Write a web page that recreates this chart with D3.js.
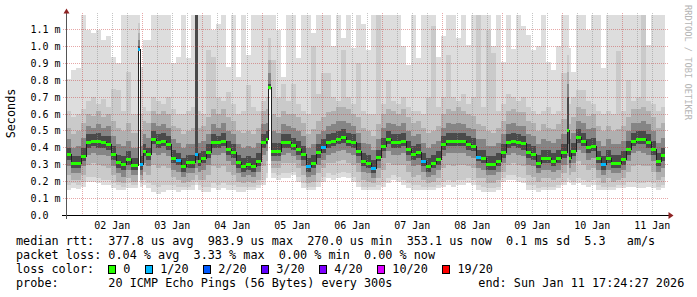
<!DOCTYPE html>
<html>
<head>
<meta charset="utf-8">
<script src="https://cdn.jsdelivr.net/npm/d3@7"></script>
<style>
  body { margin: 0; background: #ffffff; }
  svg { display: block; }
  text { font-family: "DejaVu Sans Mono", monospace; fill: #000000; }
</style>
</head>
<body>
<div id="vis"></div>
<script>
// start of each sample, in hours after Jan 01 17:24:27 (last sample ends at END_HOUR)
const HOURS = [0,2,4,6,8,10,12,14,16,18,
  20,22,24,26,28.7,29.6,30.9,32,34,36,
  38,40,42,44,46,48,50,51.7,52.9,54,
  56,58,60,62,64,66,68,70,72,74,
  76,78,80,80.9,81.9,84,86,88,90,92,
  94,96,98,100,102,104,106,108,110,112,
  114,116,118,120,122,124,126,128,130,132,
  134,136,138,140,142,144,146,148,150,152,
  154,156,158,160,162,164,166,168,170,172,
  174,176,178,180,182,184,186,188,190,192,
  194,196,198,200.5,201.4,202,204,206,208,210,
  212,214,216,218,220,222,224,226,228,230,
  232,234,236,238];
const END_HOUR = 239.6;

// median rtt in ms
const MEDIAN = [.36,.31,.31,.35,.43,.437,.435,.43,.42,.36,
  .313,.30,.33,.293,.98,.30,.378,.358,.45,.43,
  .44,.42,.34,.327,.29,.313,.313,.36,.32,.335,
  .37,.43,.43,.44,.39,.37,.313,.29,.30,.29,
  .32,.43,.45,.757,.38,.38,.43,.43,.415,.39,
  .36,.29,.31,.37,.40,.43,.44,.45,.46,.44,
  .43,.38,.32,.31,.28,.345,.41,.45,.43,.43,
  .44,.39,.36,.37,.32,.29,.31,.33,.42,.44,
  .44,.44,.44,.42,.41,.345,.34,.30,.30,.32,
  .37,.43,.44,.43,.425,.37,.36,.31,.34,.34,
  .32,.34,.37,.50,.34,.38,.46,.44,.40,.41,
  .335,.30,.34,.31,.31,.33,.39,.44,.45,.45,
  .43,.39,.32,.353];

// lost pings out of 20
const LOSS = [0,0,0,0,0,0,0,0,0,0,
  0,0,0,0,1,1,0,0,0,0,
  0,0,0,1,0,0,0,1,0,0,
  0,0,0,0,0,0,0,0,0,0,
  0,0,0,0,0,0,0,0,0,0,
  0,1,0,0,1,0,0,0,0,0,
  0,0,0,0,1,0,0,0,0,0,
  0,0,0,0,1,0,0,0,0,0,
  0,0,0,0,0,1,0,0,0,0,
  0,0,0,0,0,0,0,0,0,0,
  0,0,0,0,0,0,0,0,0,0,
  0,1,0,0,0,0,0,0,0,0,
  0,0,0,0];

// sorted ping values (ms): ping 1, 2, 4, 6, 8 below the median, 13, 15, 17, 19, 20 above
const P1 = [.15,.16,.155,.17,.20,.20,.19,.18,.18,.16,
  .15,.15,.16,.16,.97,.17,.18,.16,.14,.13,
  .14,.15,.15,.14,.15,.15,.15,.18,.15,.14,
  .14,.16,.15,.16,.15,.15,.14,.14,.15,.15,
  .16,.18,.22,.74,.22,.21,.22,.22,.24,.20,
  .16,.15,.15,.17,.20,.22,.21,.22,.23,.22,
  .20,.17,.15,.15,.15,.15,.17,.19,.21,.20,
  .18,.16,.15,.15,.15,.15,.15,.16,.17,.18,
  .17,.18,.18,.19,.18,.15,.14,.14,.14,.15,
  .20,.21,.21,.20,.19,.15,.15,.14,.15,.15,
  .15,.16,.18,.20,.19,.18,.19,.18,.17,.18,
  .15,.15,.15,.15,.16,.16,.17,.17,.16,.16,
  .17,.16,.15,.16];
const P2 = [.18,.19,.18,.20,.23,.23,.22,.21,.21,.19,
  .18,.17,.19,.18,.972,.19,.21,.19,.18,.17,
  .18,.18,.18,.17,.17,.17,.18,.20,.18,.17,
  .17,.19,.18,.19,.18,.18,.17,.17,.17,.17,
  .18,.21,.25,.743,.25,.24,.25,.25,.26,.23,
  .19,.17,.17,.20,.23,.25,.24,.25,.26,.25,
  .23,.20,.17,.17,.17,.18,.20,.22,.24,.23,
  .21,.19,.18,.18,.17,.17,.17,.18,.20,.21,
  .20,.21,.21,.22,.21,.18,.17,.16,.16,.17,
  .22,.24,.24,.23,.22,.18,.18,.16,.17,.17,
  .17,.18,.20,.22,.21,.20,.22,.21,.20,.21,
  .18,.17,.17,.17,.18,.18,.20,.20,.19,.19,
  .20,.19,.17,.18];
const P4 = [.24,.21,.21,.24,.30,.31,.30,.29,.28,.24,
  .20,.19,.22,.20,.975,.21,.26,.24,.30,.28,
  .29,.28,.23,.21,.19,.20,.21,.24,.21,.21,
  .24,.29,.28,.29,.26,.24,.20,.19,.20,.19,
  .21,.29,.32,.747,.28,.28,.31,.31,.31,.28,
  .24,.19,.20,.25,.28,.31,.31,.32,.33,.31,
  .30,.26,.21,.20,.19,.22,.27,.31,.30,.30,
  .30,.26,.23,.24,.21,.19,.20,.22,.28,.30,
  .29,.30,.30,.29,.28,.22,.22,.19,.19,.21,
  .26,.30,.31,.30,.29,.24,.23,.20,.22,.22,
  .21,.22,.25,.30,.24,.26,.32,.30,.27,.28,
  .22,.19,.22,.20,.21,.22,.26,.29,.30,.29,
  .29,.26,.21,.23];
const P6 = [.29,.25,.25,.29,.36,.37,.36,.36,.35,.29,
  .25,.23,.27,.24,.977,.24,.31,.29,.37,.36,
  .37,.35,.27,.26,.23,.25,.25,.28,.26,.27,
  .30,.36,.36,.37,.32,.30,.25,.23,.24,.23,
  .26,.36,.38,.75,.32,.32,.36,.37,.35,.33,
  .29,.23,.24,.30,.33,.36,.37,.38,.39,.37,
  .36,.31,.26,.25,.22,.28,.34,.38,.36,.36,
  .37,.32,.29,.30,.26,.23,.24,.27,.35,.37,
  .37,.37,.37,.35,.34,.28,.27,.24,.24,.26,
  .31,.36,.37,.36,.35,.30,.29,.25,.27,.27,
  .26,.27,.30,.35,.28,.31,.39,.37,.33,.34,
  .27,.24,.27,.25,.25,.27,.32,.37,.38,.37,
  .36,.32,.26,.28];
const P8 = [.33,.28,.28,.32,.40,.41,.40,.40,.39,.33,
  .28,.27,.30,.27,.979,.27,.35,.33,.42,.40,
  .41,.39,.31,.30,.26,.28,.28,.33,.29,.31,
  .34,.40,.40,.41,.36,.34,.28,.26,.27,.26,
  .29,.40,.42,.753,.35,.35,.40,.40,.39,.36,
  .33,.26,.28,.34,.37,.40,.41,.42,.43,.41,
  .40,.35,.29,.28,.25,.32,.38,.42,.40,.40,
  .41,.36,.33,.34,.29,.26,.28,.30,.39,.41,
  .41,.41,.41,.39,.38,.32,.31,.27,.27,.29,
  .34,.40,.41,.40,.39,.34,.33,.28,.31,.31,
  .29,.31,.34,.42,.31,.35,.43,.41,.37,.38,
  .31,.27,.31,.28,.28,.30,.36,.41,.42,.42,
  .40,.36,.29,.32];
const P13 = [.40,.35,.35,.40,.48,.48,.49,.47,.47,.41,
  .36,.35,.38,.34,1.00,.35,.42,.40,.50,.48,
  .49,.47,.39,.37,.34,.36,.36,1.30,.37,.38,
  .42,.48,.47,.49,.44,.42,.36,.34,.35,.34,
  .37,.48,.50,.78,.43,.43,.48,.48,.46,.44,
  .41,.34,.36,.42,.45,.48,.49,.50,.51,.49,
  .48,.43,.37,.36,.33,.39,.46,.50,.48,.48,
  .49,.44,.41,.42,.37,.34,.36,.38,.47,.49,
  .49,.49,.49,.47,.46,.39,.39,.35,.35,.37,
  .42,.48,.49,.48,.47,.42,.41,.36,.39,.39,
  .37,.39,.42,.70,.39,.43,.51,.49,.45,.46,
  .38,.35,.39,.36,.36,.38,.44,.49,.50,.50,
  .48,.44,.37,.40];
const P15 = [.45,.40,.41,.46,.53,.52,.54,.52,.53,.47,
  .42,.41,.44,.40,1.04,.41,.48,.46,.55,.53,
  .54,.52,.45,.43,.40,.42,.42,1.30,.43,.44,
  .48,.54,.52,.55,.50,.48,.42,.40,.41,.40,
  .43,.54,.55,.84,.50,.49,.54,.53,.52,.50,
  .47,.40,.42,.48,.50,.53,.54,.56,.56,.55,
  .53,.49,.43,.42,.39,.45,.52,.55,.54,.53,
  .55,.50,.47,.48,.43,.40,.42,.44,.52,.55,
  .54,.55,.54,.52,.51,.45,.45,.41,.41,.43,
  .48,.54,.55,.53,.53,.48,.47,.42,.45,.44,
  .43,.45,.48,.78,.45,.49,.56,.55,.51,.52,
  .44,.41,.45,.42,.42,.44,.50,.55,.55,.56,
  .54,.50,.43,.46];
const P17 = [.52,.48,.50,.55,.60,.59,.62,.58,.60,.56,
  .52,.50,.55,.49,1.08,.50,.56,.55,.62,.60,
  .62,.60,.53,.52,.48,.50,.52,1.30,.52,.53,
  .58,.63,.60,.63,.58,.56,.50,.49,.50,.48,
  .52,.62,.63,.92,.60,.58,.62,.60,.60,.58,
  .55,.48,.51,.56,.58,.61,.62,.64,.64,.63,
  .60,.58,.52,.50,.47,.54,.60,.63,.62,.60,
  .63,.58,.55,.56,.52,.49,.50,.53,.60,.63,
  .62,.64,.62,.60,.59,.54,.53,.50,.49,.52,
  .56,.62,.63,.61,.61,.56,.55,.50,.54,.52,
  .51,.54,.57,.85,.54,.58,.64,.63,.59,.60,
  .53,.50,.53,.50,.51,.53,.58,.63,.63,.64,
  .62,.58,.52,.55];
const P19 = [.62,.58,.60,.63,.68,.70,.66,.69,.64,.75,
  .74,.62,.85,.60,1.14,.60,.64,.62,.70,.68,
  .66,.70,.63,.60,.60,.62,.64,1.30,.62,.60,
  .98,.94,.70,.68,.73,.66,.60,.62,.77,.64,
  .62,.68,.70,1.05,.92,.70,.78,.68,.78,.66,
  .62,.60,1.00,.72,.84,.84,.70,.68,.98,.70,
  .66,.90,.62,.60,.60,1.25,.66,.80,.68,.66,
  .70,.64,.62,.62,.60,.70,1.12,.64,.70,.95,
  .70,.68,.72,.66,.70,1.25,.64,1.10,.96,.62,
  .66,.72,.70,.68,.70,.64,.62,.60,.62,.64,
  .60,.62,.84,.95,.66,.70,.74,.74,.68,.66,
  .62,.60,.62,.60,.97,.62,.80,.68,.70,1.25,
  .68,.66,.62,.64];
const P20 = [.81,.86,.87,1.25,1.10,1.08,1.10,1.04,1.06,.94,
  .90,1.25,1.25,1.25,1.30,.88,1.04,1.04,1.25,1.25,
  1.25,1.25,.90,.94,1.25,.93,1.25,1.30,1.25,1.25,
  1.25,1.10,1.13,1.25,.88,1.25,.82,1.25,.95,1.25,
  1.25,1.25,1.25,1.30,1.25,1.10,.82,1.25,1.25,.93,
  1.25,1.25,1.08,1.25,1.25,1.25,1.00,1.25,1.05,1.25,
  .99,1.25,1.13,.98,1.25,1.25,1.25,1.25,1.25,1.25,
  1.00,.89,1.25,.93,1.25,1.25,1.25,.94,1.06,1.25,
  1.25,1.05,1.25,1.01,1.25,1.25,1.25,1.25,1.00,1.25,
  .91,1.25,.985,1.25,1.12,1.07,.98,1.00,1.25,.91,
  .86,1.00,1.25,1.30,.99,.85,1.25,1.25,1.10,1.25,
  1.25,.87,1.25,1.25,1.25,1.25,1.25,1.25,1.25,1.25,
  1.01,1.25,1.25,1.25];

const Y_TICKS = [0, 0.1, 0.2, 0.3, 0.4, 0.5, 0.6, 0.7, 0.8, 0.9, 1.0, 1.1];
const Y_TICK_LABELS = ["0.0", "0.1 m", "0.2 m", "0.3 m", "0.4 m", "0.5 m", "0.6 m",
                       "0.7 m", "0.8 m", "0.9 m", "1.0 m", "1.1 m"];

const LOSS_STEPS = [0, 1, 2, 3, 4, 10, 19];
const LOSS_LABELS = ["0", "1/20", "2/20", "3/20", "4/20", "10/20", "19/20"];
const LOSS_COLORS = ["#26ff00", "#00b8ff", "#0059ff", "#5e00ff", "#7e00ff", "#dd00ff", "#ff0000"];

const LEGEND_LINES = [
  "median rtt:  377.8 us avg  983.9 us max  270.0 us min  353.1 us now  0.1 ms sd  5.3   am/s",
  "packet loss: 0.04 % avg  3.33 % max  0.00 % min  0.00 % now",
  "loss color:",
  "probe:       20 ICMP Echo Pings (56 Bytes) every 300s"
];
const END_TEXT = "end: Sun Jan 11 17:24:27 2026";

// frame and scales
const FRAME_WIDTH = 697;
const FRAME_HEIGHT = 297;
const T0 = Date.UTC(2026, 0, 1, 17, 24, 27);
const T1 = Date.UTC(2026, 0, 11, 17, 24, 27);

const X_SCALE = d3.scaleUtc()
                  .domain([new Date(T0), new Date(T1)])
                  .range([65.8, 665.8]);
const Y_SCALE = d3.scaleLinear()
                  .domain([0, 1.1])
                  .range([215.5, 29.5]);

const FRAME = d3.select("#vis")
                .append("svg")
                  .attr("width", FRAME_WIDTH)
                  .attr("height", FRAME_HEIGHT);

FRAME.append("rect")
  .attr("width", FRAME_WIDTH)
  .attr("height", FRAME_HEIGHT)
  .attr("fill", "#ffffff");

FRAME.append("defs")
  .append("clipPath")
    .attr("id", "plot")
  .append("rect")
    .attr("x", 67)
    .attr("y", 15)
    .attr("width", 600)
    .attr("height", 200);

function hourToTime(h) { return new Date(T0 + h * 3600 * 1000); }

const starts = HOURS.map((h) => Math.round(X_SCALE(hourToTime(h))));
const ends = HOURS.map((h, i) => Math.round(X_SCALE(hourToTime(i + 1 < HOURS.length ? HOURS[i + 1] : END_HOUR))));

// smoke: outer pings lightest, inner pings darkest
const LAYERS = [
  {lo: P1, hi: P20, color: "#dddddd"},
  {lo: P2, hi: P19, color: "#cacaca"},
  {lo: P4, hi: P17, color: "#b0b0b0"},
  {lo: P6, hi: P15, color: "#858585"},
  {lo: P8, hi: P13, color: "#4a4a4a"}
];

const SMOKE = FRAME.append("g")
  .attr("clip-path", "url(#plot)")
  .attr("shape-rendering", "crispEdges");

LAYERS.forEach((layer) => {
  SMOKE.append("g")
    .selectAll("rect")
    .data(HOURS)
    .enter()
    .append("rect")
      .attr("x", (d, i) => starts[i])
      .attr("width", (d, i) => ends[i] - starts[i])
      .attr("y", (d, i) => Math.round(Y_SCALE(layer.hi[i])))
      .attr("height", (d, i) => Math.round(Y_SCALE(layer.lo[i])) - Math.round(Y_SCALE(layer.hi[i])))
      .attr("fill", layer.color);
});

// grid
const GRID = FRAME.append("g").attr("shape-rendering", "crispEdges");

Y_TICKS.filter((v) => v > 0).forEach((v) => {
  const y = Math.floor(Y_SCALE(v)) + 0.5;
  GRID.append("line")
    .attr("x1", 63).attr("x2", 669)
    .attr("y1", y).attr("y2", y)
    .attr("stroke", "#c83c3c")
    .attr("stroke-opacity", 0.45)
    .attr("stroke-dasharray", "1,1");
});

d3.utcHour.every(6).range(new Date(T0), new Date(T1)).forEach((t) => {
  const x = Math.floor(X_SCALE(t)) + 0.5;
  if (x < 70) { return; }
  const major = t.getUTCHours() === 0;
  GRID.append("line")
    .attr("x1", x).attr("x2", x)
    .attr("y1", 13).attr("y2", 217)
    .attr("stroke", major ? "#c83c3c" : "#8c8c8c")
    .attr("stroke-opacity", major ? 0.45 : 0.5)
    .attr("stroke-dasharray", "1,1");
});

// median line with loss colour marks
const medPoints = HOURS.map((h, i) => [starts[i], Math.floor(Y_SCALE(MEDIAN[i])) + 0.5]);
medPoints.push([ends[ends.length - 1], medPoints[medPoints.length - 1][1]]);

const MED = FRAME.append("g")
  .attr("clip-path", "url(#plot)")
  .attr("shape-rendering", "crispEdges");

MED.append("path")
  .datum(medPoints)
  .attr("d", d3.line().curve(d3.curveStepAfter))
  .attr("fill", "none")
  .attr("stroke", "#202020")
  .attr("stroke-width", 1);

function lossColor(n) {
  let k = 0;
  LOSS_STEPS.forEach((s, j) => { if (n >= s) { k = j; } });
  return LOSS_COLORS[k];
}

MED.selectAll(".loss")
  .data(HOURS)
  .enter()
  .append("rect")
    .attr("class", "loss")
    .attr("x", (d, i) => starts[i])
    .attr("width", (d, i) => ends[i] - starts[i])
    .attr("y", (d, i) => Math.floor(Y_SCALE(MEDIAN[i])) - 1)
    .attr("height", 3)
    .attr("fill", (d, i) => lossColor(LOSS[i]));

// axes
const AXES = FRAME.append("g").attr("shape-rendering", "crispEdges");
AXES.append("line")
  .attr("x1", 62).attr("x2", 669)
  .attr("y1", 215.5).attr("y2", 215.5)
  .attr("stroke", "#000000");
AXES.append("line")
  .attr("x1", 66.5).attr("x2", 66.5)
  .attr("y1", 13).attr("y2", 219)
  .attr("stroke", "#555555");

FRAME.append("path")
  .attr("d", "M668.5,212L673.5,215.5L668.5,219Z")
  .attr("fill", "#8e2323");
FRAME.append("path")
  .attr("d", "M63.5,13.5L66.5,8.5L69.5,13.5Z")
  .attr("fill", "#8e2323");

// y tick labels
FRAME.append("g")
  .selectAll("text")
  .data(Y_TICKS)
  .enter()
  .append("text")
    .attr("x", 30.5)
    .attr("y", (d) => Math.floor(Y_SCALE(d)) + 4)
    .attr("font-size", "10px")
    .text((d, i) => Y_TICK_LABELS[i]);

// x tick labels at noon of each day
const noons = d3.utcDay.range(new Date(T0), new Date(T1))
  .map((d) => d3.utcHour.offset(d, 12))
  .filter((d) => d.getTime() < T1);

FRAME.append("g")
  .selectAll("text")
  .data(noons)
  .enter()
  .append("text")
    .attr("x", (d) => X_SCALE(d))
    .attr("y", 228.5)
    .attr("text-anchor", "middle")
    .attr("font-size", "10px")
    .text((d) => d3.utcFormat("%d %b")(d));

// axis title and watermark
FRAME.append("text")
  .attr("transform", "translate(15,113.5) rotate(-90)")
  .attr("text-anchor", "middle")
  .attr("font-size", "11.8px")
  .text("Seconds");

FRAME.append("text")
  .attr("transform", "translate(685,5) rotate(90)")
  .attr("font-size", "8.7px")
  .style("fill", "#b4b4b4")
  .text("RRDTOOL / TOBI OETIKER");

// legend
const LEGEND_Y = [245, 259, 273, 287];
const nb = (s) => s.replace(/ /g, "\u00a0");

LEGEND_LINES.forEach((line, i) => {
  FRAME.append("text")
    .attr("x", 16)
    .attr("y", LEGEND_Y[i])
    .attr("font-size", "11.8px")
    .text(nb(line));
});

FRAME.append("text")
  .attr("x", 478.3)
  .attr("y", LEGEND_Y[3])
  .attr("font-size", "11.8px")
  .text(nb(END_TEXT));

let lx = 108.3;
LOSS_LABELS.forEach((label, i) => {
  FRAME.append("rect")
    .attr("x", Math.round(lx) + 0.5)
    .attr("y", 265.5)
    .attr("width", 7)
    .attr("height", 8)
    .attr("fill", LOSS_COLORS[i])
    .attr("stroke", "#000000")
    .attr("stroke-width", 1)
    .attr("shape-rendering", "crispEdges");
  FRAME.append("text")
    .attr("x", lx + 15)
    .attr("y", LEGEND_Y[2])
    .attr("font-size", "11.8px")
    .text(label);
  lx = lx + 15 + label.length * 7.06 + 14.8;
});
</script>
</body>
</html>
